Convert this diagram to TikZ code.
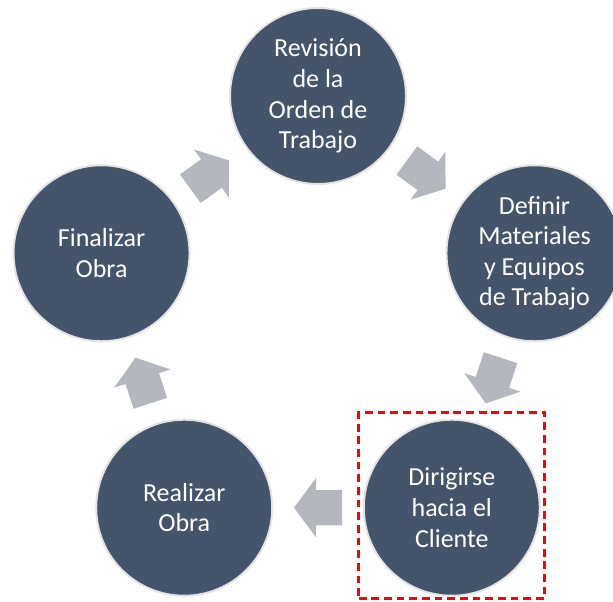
\documentclass[tikz,border=0pt]{standalone}
\usepackage{fontspec}
\setmainfont{Carlito}
\usetikzlibrary{positioning, fit, calc}

\definecolor{stageblue}{HTML}{44546A}
\definecolor{stagerim}{HTML}{E4E4E4}
\definecolor{flowgrey}{HTML}{B4B7BE}

\begin{document}
\begin{tikzpicture}[
  stage/.style={circle, draw=stagerim, line width=1.4pt, fill=stageblue, minimum size=4.4cm, inner sep=0pt, align=center, text=white, font=\fontsize{18.5}{21.8}\selectfont},
  flow/.style={fill=flowgrey}
]
  \useasboundingbox (0,0) rectangle (15.325,15.05);
  \coordinate (mid) at (7.95,6.96);

  \node[stage] (revision) at ($(mid)+(90:5.69)$) {Revisión\\de la\\Orden de\\Trabajo};
  \node[stage] (materiales) at ($(mid)+(18:5.69)$) {Definir\\Materiales\\y Equipos\\de Trabajo};
  \node[stage] (cliente) at ($(mid)+(-54:5.69)$) {Dirigirse\\hacia el\\Cliente};
  \node[stage] (realizar) at ($(mid)+(-126:5.69)$) {Realizar\\Obra};
  \node[stage] (finalizar) at ($(mid)+(162:5.69)$) {Finalizar\\Obra};

  % block arrows halfway between the stages
  \foreach \from/\to/\ang in {revision/materiales/-36, materiales/cliente/-108, cliente/realizar/180, realizar/finalizar/108, finalizar/revision/36}
    \fill[flow, shift={($(\from)!0.5!(\to)$)}, rotate=\ang]
      (-0.6,-0.44) -- (0.05,-0.44) -- (0.05,-0.74) -- (0.6,0) -- (0.05,0.74) -- (0.05,0.44) -- (-0.6,0.44) -- cycle;

  \node[draw=red, line width=2.1pt, dash pattern=on 5.5pt off 3.5pt, inner sep=0.1cm, yshift=0.06cm, fit=(cliente)] (focus) {};
\end{tikzpicture}
\end{document}
